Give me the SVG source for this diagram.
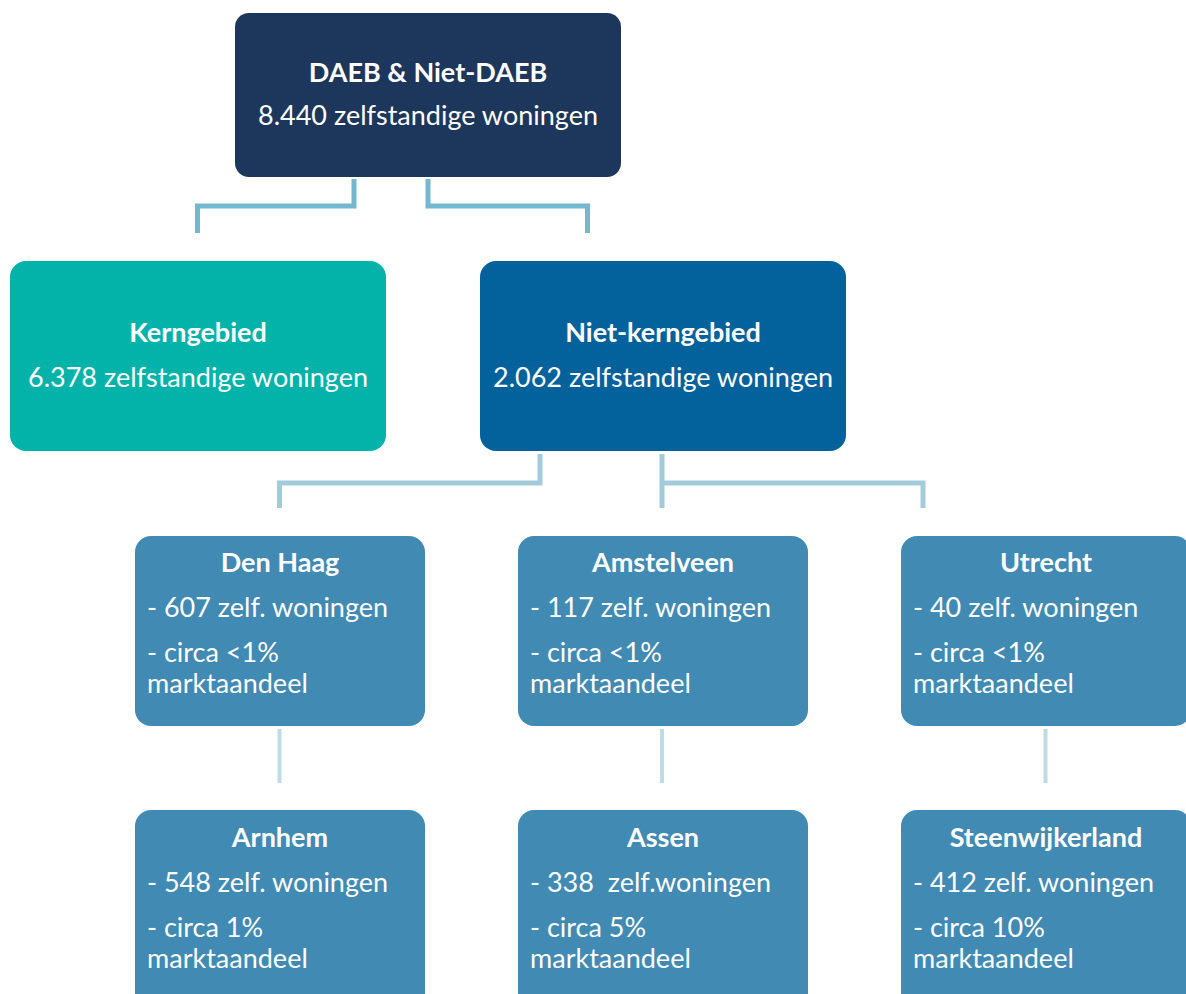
<svg xmlns="http://www.w3.org/2000/svg" width="1186" height="994" viewBox="0 0 1186 994">
<style>
text{font-family:Lato,"Liberation Sans",sans-serif;fill:#ffffff;font-size:27px}
.b{font-weight:bold}
.m{text-anchor:middle}
.top{fill:#1d365c}
.kern{fill:#03b3aa}
.nk{fill:#03629b}
.sub{fill:#418ab3}
.c1{stroke:#74b8cf;stroke-width:5;fill:none}
.c2{stroke:#a3cbdc;stroke-width:5;fill:none}
.c3{stroke:#bfdde6;stroke-width:4;fill:none}
</style>
<rect width="1186" height="994" fill="#ffffff"/>
<g id="connectors">
<path class="c1" d="M354,179 V206 H197.5 V233"/>
<path class="c1" d="M428,179 V206 H587.5 V233"/>
<path class="c2" d="M540,454 V483 H279.5 V508"/>
<path class="c2" d="M662,454 V508 M662,483 H923 V508"/>
<path class="c3" d="M279.5,729 V783"/>
<path class="c3" d="M662,729 V783"/>
<path class="c3" d="M1045.5,729 V783"/>
</g>
<g id="root">
<rect class="top" x="235" y="13" width="386" height="164" rx="14"/>
<text class="b m" x="428" y="82">DAEB &amp; Niet-DAEB</text>
<text class="m" x="428" y="125">8.440 zelfstandige woningen</text>
</g>
<g id="kerngebied">
<rect class="kern" x="10" y="261" width="376" height="190" rx="16"/>
<text class="b m" x="198" y="342">Kerngebied</text>
<text class="m" x="198" y="387">6.378 zelfstandige woningen</text>
</g>
<g id="niet-kerngebied">
<rect class="nk" x="480" y="261" width="366" height="190" rx="16"/>
<text class="b m" x="663" y="342">Niet-kerngebied</text>
<text class="m" x="663" y="387">2.062 zelfstandige woningen</text>
</g>
<g id="den-haag">
<rect class="sub" x="135" y="536" width="290" height="190" rx="16"/>
<text class="b m" x="280" y="572">Den Haag</text>
<text x="147" y="617">- 607 zelf. woningen</text>
<text x="147" y="662">- circa &lt;1%</text>
<text x="147" y="693">marktaandeel</text>
</g>
<g id="amstelveen">
<rect class="sub" x="518" y="536" width="290" height="190" rx="16"/>
<text class="b m" x="663" y="572">Amstelveen</text>
<text x="530" y="617">- 117 zelf. woningen</text>
<text x="530" y="662">- circa &lt;1%</text>
<text x="530" y="693">marktaandeel</text>
</g>
<g id="utrecht">
<rect class="sub" x="901" y="536" width="290" height="190" rx="16"/>
<text class="b m" x="1046" y="572">Utrecht</text>
<text x="913" y="617">- 40 zelf. woningen</text>
<text x="913" y="662">- circa &lt;1%</text>
<text x="913" y="693">marktaandeel</text>
</g>
<g id="arnhem">
<rect class="sub" x="135" y="810" width="290" height="200" rx="16"/>
<text class="b m" x="280" y="847">Arnhem</text>
<text x="147" y="892">- 548 zelf. woningen</text>
<text x="147" y="937">- circa 1%</text>
<text x="147" y="968">marktaandeel</text>
</g>
<g id="assen">
<rect class="sub" x="518" y="810" width="290" height="200" rx="16"/>
<text class="b m" x="663" y="847">Assen</text>
<text x="530" y="892" xml:space="preserve">- 338  zelf.woningen</text>
<text x="530" y="937">- circa 5%</text>
<text x="530" y="968">marktaandeel</text>
</g>
<g id="steenwijkerland">
<rect class="sub" x="901" y="810" width="290" height="200" rx="16"/>
<text class="b m" x="1046" y="847">Steenwijkerland</text>
<text x="913" y="892">- 412 zelf. woningen</text>
<text x="913" y="937">- circa 10%</text>
<text x="913" y="968">marktaandeel</text>
</g>
</svg>
